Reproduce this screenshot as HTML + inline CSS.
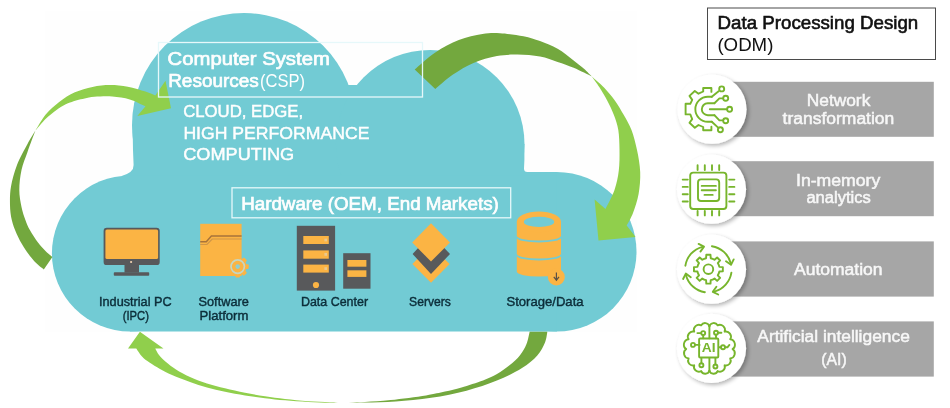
<!DOCTYPE html>
<html><head><meta charset="utf-8"><title>diagram</title>
<style>
html,body{margin:0;padding:0;background:#fff;}
body{width:950px;height:408px;overflow:hidden;font-family:"Liberation Sans",sans-serif;}
svg{display:block;}
text{font-family:"Liberation Sans",sans-serif;opacity:.995;}
.lbl{font-size:12.9px;fill:#0c2d39;stroke:#0c2d39;stroke-width:.42px;}
.wt{fill:#fff;}
.sb{stroke:#fff;stroke-width:.7px;}
.ic{fill:none;stroke:#77b52c;stroke-width:1.9;stroke-linecap:round;stroke-linejoin:round;}
</style></head><body>
<svg width="950" height="408" viewBox="0 0 950 408">
<defs>
  <linearGradient id="g1" gradientUnits="userSpaceOnUse" x1="20" y1="170" x2="70" y2="100">
    <stop offset="0" stop-color="#6ea73d"/><stop offset="1" stop-color="#8cc944"/>
  </linearGradient>
  <linearGradient id="g3" gradientUnits="userSpaceOnUse" x1="325" y1="0" x2="365" y2="0">
    <stop offset="0" stop-color="#90cf4c"/><stop offset="1" stop-color="#73a83e"/>
  </linearGradient>
  <filter id="sh" x="-30%" y="-30%" width="160%" height="160%">
    <feGaussianBlur in="SourceAlpha" stdDeviation="2.2"/>
    <feOffset dx="1.5" dy="1.8" result="b"/>
    <feComponentTransfer><feFuncA type="linear" slope="0.3"/></feComponentTransfer>
    <feMerge><feMergeNode/><feMergeNode in="SourceGraphic"/></feMerge>
  </filter>
  <filter id="soft" x="-5%" y="-5%" width="110%" height="110%"><feGaussianBlur stdDeviation="0.5"/></filter>
</defs>
<rect x="45" y="11" width="592" height="321" fill="#fefefe"/>

<!-- bottom arrow (behind cloud) -->
<path d="M547.4 331.4 C547.0 333.3 546.6 338.7 544.9 342.7 C543.2 346.7 541.1 351.2 537.3 355.4 C533.5 359.6 528.7 363.8 522.0 368.0 C515.3 372.2 506.1 376.8 496.9 380.6 C487.6 384.4 477.4 387.8 466.5 390.7 C455.6 393.6 443.0 396.0 431.2 397.8 C419.4 399.6 406.8 400.6 395.8 401.4 C384.8 402.2 373.6 402.4 365.0 402.6 C356.4 402.8 349.8 402.6 344.0 402.6 C338.2 402.6 336.0 402.9 330.0 402.8 C324.0 402.7 315.5 402.4 308.0 402.0 C300.5 401.6 292.2 400.9 285.0 400.3 C277.8 399.7 271.7 399.0 265.0 398.2 C258.3 397.4 251.7 396.5 245.0 395.4 C238.3 394.3 231.3 393.1 225.0 391.8 C218.7 390.5 212.8 389.0 207.0 387.4 C201.2 385.8 195.8 384.1 190.0 382.0 C184.2 379.9 177.0 377.2 172.0 375.0 C167.0 372.8 163.8 371.1 160.0 369.0 C156.2 366.9 152.5 364.7 149.5 362.6 C146.5 360.5 144.2 358.9 142.0 356.5 C139.8 354.1 137.2 349.8 136.2 348.5 L128.0 348.5 L139.9 331.8 L163.5 348.5 L155.3 348.5 L155.3 348.5 C155.9 349.6 157.2 352.8 159.0 355.0 C160.8 357.2 163.2 359.6 166.0 362.0 C168.8 364.4 172.0 367.0 176.0 369.5 C180.0 372.0 184.8 374.7 190.0 377.0 C195.2 379.3 201.2 381.6 207.0 383.5 C212.8 385.4 218.7 386.8 225.0 388.3 C231.3 389.9 238.3 391.5 245.0 392.8 C251.7 394.1 258.3 395.3 265.0 396.3 C271.7 397.3 277.8 398.2 285.0 399.0 C292.2 399.8 300.5 400.7 308.0 401.2 C315.5 401.7 324.0 402.0 330.0 402.2 C336.0 402.4 338.2 402.4 344.0 402.4 C349.8 402.3 357.2 402.3 365.0 401.9 C372.8 401.5 380.5 401.1 390.7 400.0 C400.9 398.9 416.9 396.8 426.0 395.4 C435.1 394.0 439.1 392.9 445.0 391.6 C450.9 390.3 455.2 389.3 461.5 387.4 C467.8 385.5 477.1 382.6 483.0 380.4 C488.9 378.2 492.6 376.5 497.0 374.0 C501.4 371.5 505.7 368.4 509.5 365.3 C513.3 362.2 517.2 358.9 520.0 355.3 C522.8 351.8 524.9 348.0 526.5 344.0 C528.1 340.0 529.2 333.5 529.7 331.4 Z" fill="url(#g3)"/>
<!-- left arrow tail (behind cloud) -->

<!-- CLOUD -->
<g fill="#72cbd4" filter="url(#soft)">
  <circle cx="244" cy="125" r="112"/>
  <circle cx="430.2" cy="144.2" r="94.3"/>
  <rect x="346" y="85" width="14" height="14"/>
  <circle cx="129.9" cy="253.4" r="78"/>
  <path d="M132.6 125 L133 150 L133.6 165 Q134 172.6 121 176.2 L200 178 L200 125 Z"/>
  <path d="M524.4 144 L524.4 160 L524 168.5 Q524 172 527.4 172 L557 172 L557 182 L480 182 L480 144 Z"/>
  <circle cx="556.75" cy="251.75" r="79.75"/>
  <rect x="129.9" y="175.6" width="427" height="155.9"/>
</g>

<!-- arrows on top -->
<path d="M35.4 130.6 C34.1 132.8 30.6 138.3 27.5 144.0 C24.4 149.7 19.8 157.9 17.0 165.0 C14.2 172.1 12.2 179.8 11.0 186.5 C9.8 193.2 9.9 199.4 10.0 205.0 C10.1 210.6 10.7 215.2 11.8 220.0 C12.9 224.8 14.6 229.1 16.6 233.7 C18.6 238.3 21.1 242.9 24.0 247.5 C26.9 252.1 31.0 257.6 34.3 261.2 C37.6 264.8 42.2 268.0 43.8 269.4 L52.4 256.9 C51.2 255.9 47.9 253.3 45.5 250.9 C43.1 248.5 40.4 245.7 37.8 242.3 C35.2 238.9 32.1 234.0 30.0 230.3 C27.9 226.6 26.8 223.9 25.4 220.0 C24.0 216.1 22.5 212.0 21.5 207.0 C20.5 202.0 19.3 196.2 19.3 190.0 C19.3 183.8 20.1 176.3 21.5 170.0 C22.9 163.7 25.2 158.6 27.5 152.0 C29.8 145.4 34.1 134.2 35.4 130.6 Z" fill="#73a83e"/>
<path d="M35.4 130.6 C37.1 128.0 41.5 119.6 45.5 114.8 C49.5 110.0 54.3 105.8 59.2 102.0 C64.1 98.2 69.4 94.8 74.9 92.3 C80.5 89.8 86.6 88.1 92.5 86.9 C98.4 85.7 104.3 85.1 110.2 85.1 C116.1 85.1 121.9 85.6 127.8 86.7 C133.7 87.8 140.9 90.1 145.5 91.6 C150.1 93.1 153.7 94.8 155.3 95.5 L165.5 80.8 L171.0 108.2 L137.3 116.0 L145.5 106.3 L145.5 106.3 C142.9 105.2 135.4 101.0 129.8 99.4 C124.3 97.8 118.1 96.9 112.2 96.5 C106.3 96.1 99.1 96.5 94.5 96.8 C89.9 97.1 87.6 98.0 84.7 98.6 C81.8 99.2 79.4 99.5 76.9 100.2 C74.5 100.9 72.6 101.5 70.0 102.6 C67.4 103.7 64.2 105.0 61.2 106.8 C58.2 108.6 54.7 111.3 52.0 113.4 C49.3 115.5 47.8 116.7 45.0 119.6 C42.2 122.5 37.0 128.8 35.4 130.6 Z" fill="#90cf4c"/>
<path d="M414.7 69.4 C418.1 66.6 427.9 57.3 435.3 52.4 C442.7 47.5 451.0 43.1 458.8 40.0 C466.6 36.9 475.5 35.1 482.4 34.0 C489.3 32.9 493.1 32.8 500.0 33.2 C506.9 33.6 516.8 34.9 523.5 36.2 C530.2 37.5 534.3 39.0 540.0 41.1 C545.7 43.2 552.1 45.7 557.6 48.8 C563.1 51.9 568.6 56.6 573.0 59.9 C577.4 63.2 580.9 66.0 584.0 68.7 C587.1 71.5 590.5 75.1 591.8 76.4 L591.8 76.4 C590.5 75.8 587.1 74.1 584.0 72.6 C580.9 71.1 577.4 69.3 573.0 67.5 C568.6 65.7 563.1 63.8 557.6 62.0 C552.1 60.2 546.7 57.8 540.0 56.6 C533.3 55.4 524.8 54.7 517.6 54.6 C510.4 54.5 504.4 54.6 497.0 56.0 C489.6 57.4 480.8 59.9 473.5 63.0 C466.2 66.1 459.4 70.3 453.0 74.6 C446.6 78.9 438.2 86.6 435.3 89.0 Z" fill="#73a83e"/>
<path d="M591.8 76.4 C593.8 78.2 600.1 83.4 604.0 87.4 C607.9 91.5 611.7 96.1 615.0 100.7 C618.3 105.3 621.0 110.1 623.8 115.0 C626.5 119.9 629.3 124.2 631.5 130.0 C633.7 135.8 635.5 143.0 637.0 150.0 C638.5 157.0 639.9 164.7 640.2 172.0 C640.5 179.3 639.8 187.2 638.6 194.0 C637.4 200.8 635.0 207.8 633.0 213.0 C631.0 218.2 627.8 223.4 626.7 225.5 L635.6 237.0 L598.5 240.5 L594.6 199.5 L605.5 209.0 L605.5 209.0 C607.0 205.8 612.3 196.4 614.5 190.0 C616.7 183.6 618.0 177.3 618.8 170.6 C619.6 163.9 619.6 156.8 619.5 150.0 C619.4 143.2 619.2 135.8 618.3 130.0 C617.4 124.2 615.7 119.9 613.9 115.0 C612.1 110.1 609.7 105.3 607.3 100.7 C604.9 96.1 602.2 91.5 599.6 87.4 C597.0 83.4 593.1 78.2 591.8 76.4 Z" fill="#90cf4c"/>

<!-- text boxes -->
<rect x="158.5" y="42.5" width="264" height="54.5" fill="none" stroke="#e6f8fa" stroke-width="1.3"/>
<text class="wt sb" x="167.6" y="65" font-size="18.8" textLength="162.2" lengthAdjust="spacingAndGlyphs">Computer System</text>
<text class="wt sb" x="168.2" y="87" font-size="18.8" textLength="90.6" lengthAdjust="spacingAndGlyphs">Resources</text>
<text class="wt" x="260" y="87" font-size="18.6" textLength="45" lengthAdjust="spacingAndGlyphs">(CSP)</text>
<g class="wt" font-size="16.5" stroke="#fff" stroke-width=".45">
<text x="183.2" y="117.4" textLength="120" lengthAdjust="spacingAndGlyphs">CLOUD, EDGE,</text>
<text x="183.4" y="139" textLength="186" lengthAdjust="spacingAndGlyphs">HIGH PERFORMANCE</text>
<text x="183.2" y="159.8" textLength="111" lengthAdjust="spacingAndGlyphs">COMPUTING</text>
</g>
<rect x="232" y="187.8" width="278.7" height="30" fill="none" stroke="#e6f8fa" stroke-width="1.3"/>
<text class="wt sb" x="241.2" y="210.2" font-size="18.2" textLength="257.6" lengthAdjust="spacingAndGlyphs">Hardware (OEM, End Markets)</text>

<!-- ICONS -->
<!-- monitor -->
<g>
  <rect x="103.6" y="227.7" width="56.1" height="37.4" rx="3.2" fill="#58595b"/>
  <rect x="105.4" y="229.5" width="52.7" height="29.6" rx="1.6" fill="#fbb444"/>
  <circle cx="131.1" cy="262" r="1.1" fill="#f3d2b0"/>
  <rect x="124.5" y="265" width="14.5" height="7.6" fill="#58595b"/>
  <rect x="113.8" y="272.2" width="35.4" height="3.6" rx=".8" fill="#58595b"/>
</g>
<!-- software platform -->
<g>
  <g transform="translate(237.7 266.6)" fill="#fbb444">
      <circle r="8.9"/>
      <rect x="-2.3" y="-11" width="4.6" height="22" rx="1"/>
      <rect x="-2.3" y="-11" width="4.6" height="22" rx="1" transform="rotate(45)"/>
      <rect x="-2.3" y="-11" width="4.6" height="22" rx="1" transform="rotate(90)"/>
      <rect x="-2.3" y="-11" width="4.6" height="22" rx="1" transform="rotate(135)"/>
  </g>
  <rect x="200.2" y="223.8" width="41.4" height="52.2" fill="#fbb444"/>
  <path d="M200.2 241.7 H206.3 L211.4 236 H241.6" fill="none" stroke="#a8733a" stroke-width="1.5"/>
  <path d="M200.2 244.5 H207 L212.2 239 H241.6" fill="none" stroke="#cf9648" stroke-width="1.1"/>
  <g transform="translate(237.7 266.6)">
    <circle r="6.7" fill="none" stroke="#c6d6c3" stroke-width="1.7"/>
    <circle r="2.3" fill="#8fcfd2"/>
  </g>
</g>
<!-- data center -->
<g>
  <rect x="296.8" y="225.8" width="38.3" height="64.8" fill="#58595b"/>
  <g fill="#fbb444">
    <rect x="303.3" y="236" width="25.5" height="8"/>
    <rect x="303.3" y="250.4" width="25.5" height="8.3"/>
    <rect x="303.3" y="264.6" width="25.5" height="8"/>
    <circle cx="316" cy="285" r="3.1"/>
  </g>
  <g fill="#e9c98f"><rect x="324.4" y="238.6" width="2.6" height="2.8"/><rect x="324.4" y="253" width="2.6" height="2.8"/><rect x="324.4" y="267.2" width="2.6" height="2.8"/></g>
  <rect x="343.2" y="253.2" width="27.3" height="35.5" fill="#58595b"/>
  <g fill="#fbb444">
    <rect x="347.4" y="260" width="19" height="6.7"/>
    <rect x="347.4" y="270.3" width="19" height="6.6"/>
  </g>
</g>
<!-- servers -->
<g>
  <path d="M431 245 L449.6 264 L431 282.8 L412.4 264 Z" fill="#fbb444"/>
  <path d="M431 234 L450 254 L431 274 L412.6 254 Z" fill="#58595b"/>
  <path d="M431 223.2 L450 242.4 L431 261.6 L412.2 242.4 Z" fill="#fbb444"/>
</g>
<!-- storage -->
<g>
  <g fill="#fbb444">
    <path d="M516.8 221.8 V235.8 A22.1 4.8 0 0 0 561 235.8 V221.8 Z"/>
    <ellipse cx="538.9" cy="221.8" rx="22.1" ry="10.4"/>
    <path d="M516.8 237.7 A22.1 4.8 0 0 0 561 237.7 V253.8 A22.1 4.8 0 0 1 516.8 253.8 Z"/>
    <path d="M516.8 255.7 A22.1 4.8 0 0 0 561 255.7 V271.6 A22.1 5 0 0 1 516.8 271.6 Z"/>
    <circle cx="556.3" cy="277" r="8.5"/>
  </g>
  <ellipse cx="539" cy="221.9" rx="15.2" ry="5.1" fill="#72cbd4"/>
  <path d="M556.4 272.4 V279.6 M553.8 276.8 L556.4 280.2 L559 276.8" fill="none" stroke="#5a5147" stroke-width="1.2"/>
</g>

<!-- labels -->
<g class="lbl">
<text x="99" y="306" textLength="72.6" lengthAdjust="spacingAndGlyphs">Industrial PC</text>
<text x="122.7" y="320.4" textLength="26.2" lengthAdjust="spacingAndGlyphs">(IPC)</text>
<text x="198.5" y="306" textLength="50.4" lengthAdjust="spacingAndGlyphs">Software</text>
<text x="199.5" y="320.4" textLength="48.9" lengthAdjust="spacingAndGlyphs">Platform</text>
<text x="300.9" y="306" textLength="67.2" lengthAdjust="spacingAndGlyphs">Data Center</text>
<text x="409.1" y="306" textLength="41.8" lengthAdjust="spacingAndGlyphs">Servers</text>
<text x="506.4" y="306" textLength="77.2" lengthAdjust="spacingAndGlyphs">Storage/Data</text>
</g>

<!-- RIGHT PANEL -->
<rect x="707.5" y="8" width="228" height="51.5" fill="#fff" stroke="#4a4a4a" stroke-width="1"/>
<text x="717.6" y="29.3" font-size="18.2" fill="#111" stroke="#111" stroke-width=".6" textLength="200.6" lengthAdjust="spacingAndGlyphs">Data Processing Design</text>
<text x="717.4" y="50.6" font-size="18" fill="#111" textLength="56" lengthAdjust="spacingAndGlyphs">(ODM)</text>

<g fill="#a6a6a6">
  <rect x="712" y="81.8" width="221.8" height="55"/>
  <rect x="712" y="161.2" width="221.8" height="55"/>
  <rect x="712" y="241.4" width="221.8" height="55.2"/>
  <rect x="712" y="321.4" width="221.8" height="55.2"/>
</g>
<g fill="#fff" filter="url(#sh)">
  <circle cx="712" cy="109.2" r="34.6"/>
  <circle cx="711.5" cy="189.2" r="34.6"/>
  <circle cx="711.5" cy="269.2" r="34.6"/>
  <circle cx="711.5" cy="348.4" r="34.6"/>
</g>
<g fill="#f8f8f8" font-size="16" stroke="#f8f8f8" stroke-width=".5" lengthAdjust="spacingAndGlyphs">
  <text x="806.8" y="105.6" textLength="63.5" lengthAdjust="spacingAndGlyphs">Network</text>
  <text x="782.6" y="123.8" textLength="111.7" lengthAdjust="spacingAndGlyphs">transformation</text>
  <text x="796" y="185.5" textLength="84.3" lengthAdjust="spacingAndGlyphs">In-memory</text>
  <text x="806.4" y="203.4" textLength="64.4" lengthAdjust="spacingAndGlyphs">analytics</text>
  <text x="794" y="275" textLength="88.6" lengthAdjust="spacingAndGlyphs">Automation</text>
  <text x="757.3" y="342.3" textLength="152.5" lengthAdjust="spacingAndGlyphs">Artificial intelligence</text>
  <text x="821.3" y="365" textLength="25.4" lengthAdjust="spacingAndGlyphs">(AI)</text>
</g>

<!-- icon 1: network transformation -->
<g class="ic" transform="translate(710.2 109.2)">
  <path d="M1.2 -17.3 V-21.2 H-7 V-17.7 L-11.7 -15.5 L-15.4 -18.2 L-20.7 -13.3 L-18 -9.3 L-19.9 -5.4 H-24.6 V5.2 H-19.9 L-18 9.9 L-20.7 13.6 L-15.4 18.5 L-11.7 15.8 L-7 17.8 V21.1 H1.2 V17.6"/>
  <path d="M1.6 -12.4 H-2.4 A12.45 12.45 0 0 0 -2.4 12.5 H1.6"/>
  <path d="M1.6 -12.4 L8.4 -18"/><circle cx="11.5" cy="-20.3" r="2.5"/>
  <path d="M1.6 12.5 L7.4 17.9"/><circle cx="10.2" cy="20.6" r="2.5"/>
  <path d="M4.2 -6 H-2.4 A6 6 0 0 0 -2.4 6 H4.2"/>
  <path d="M4.2 -6 L9.2 -10.8 H12.9"/><circle cx="15.5" cy="-11" r="2.5"/>
  <path d="M4.2 6 L9.2 11.2 H12.9"/><circle cx="15.5" cy="11.5" r="2.5"/>
  <path d="M-0.4 0 H16.8"/><circle cx="19.4" cy="0" r="2.5"/>
</g>
<!-- icon 2: chip -->
<g class="ic">
  <rect x="690.2" y="172.6" width="36.2" height="36.4" rx="3"/>
  <rect x="698" y="179.4" width="21.2" height="21.6" rx="3"/>
  <path d="M701.7 185.9 H715.9 M701.7 190.3 H715.9 M704.5 194.9 H712.7"/>
  <path d="M697.6 165.3 V170 M704.8 165.3 V170 M712 165.3 V170 M719.2 165.3 V170"/>
  <path d="M697.6 211 V215.4 M704.8 211 V215.4 M712 211 V215.4 M719.2 211 V215.4"/>
  <path d="M682.7 179.6 H687.8 M682.7 186.9 H687.8 M682.7 194.2 H687.8 M682.7 201.5 H687.8"/>
  <path d="M729.2 179.6 H734.4 M729.2 186.9 H734.4 M729.2 194.2 H734.4 M729.2 201.5 H734.4"/>
</g>
<!-- icon 3: automation -->
<g class="ic" transform="translate(708.4 269.2)">
  <circle r="4.8"/>
  <path id="gear" d="M-2.31 -10.96 L-2.10 -14.45 L2.10 -14.45 L2.31 -10.96 A11.2 11.2 0 0 1 6.12 -9.38 L8.73 -11.70 L11.70 -8.73 L9.38 -6.12 A11.2 11.2 0 0 1 10.96 -2.31 L14.45 -2.10 L14.45 2.10 L10.96 2.31 A11.2 11.2 0 0 1 9.38 6.12 L11.70 8.73 L8.73 11.70 L6.12 9.38 A11.2 11.2 0 0 1 2.31 10.96 L2.10 14.45 L-2.10 14.45 L-2.31 10.96 A11.2 11.2 0 0 1 -6.12 9.38 L-8.73 11.70 L-11.70 8.73 L-9.38 6.12 A11.2 11.2 0 0 1 -10.96 2.31 L-14.45 2.10 L-14.45 -2.10 L-10.96 -2.31 A11.2 11.2 0 0 1 -9.38 -6.12 L-11.70 -8.73 L-8.73 -11.70 L-6.12 -9.38 A11.2 11.2 0 0 1 -2.31 -10.96 Z"/>
  <g id="arr"><path d="M-23 -3.5 A23.3 23.3 0 0 1 -6 -22.4"/><path d="M-9.8 -25.3 L-4.4 -22.6 L-8 -17.6"/></g>
  <use href="#arr" transform="rotate(90)"/>
  <use href="#arr" transform="rotate(180)"/>
  <use href="#arr" transform="rotate(270)"/>
</g>
<!-- icon 4: AI brain -->
<g class="ic" transform="translate(709.4 347.9)">
  <rect x="-10.3" y="-9.4" width="19.2" height="19" rx="1"/>
  <path d="M0 -21.6 V-9.6 M0 10 V22.8"/>
  <path d="M0.0 -21.6 A4.5 4.5 0 0 1 8.2 -22.6 A5.1 5.1 0 0 1 15.2 -16.2 A5.1 5.1 0 0 1 20.8 -8.6 A5.4 5.4 0 0 1 23.2 1.2 A5.2 5.2 0 0 1 20.8 10.6 A4.8 4.8 0 0 1 15.2 17.4 A4.9 4.9 0 0 1 8.2 23.2 A4.4 4.4 0 0 1 0.0 22.8"/>
  <path d="M0.0 -21.6 A4.5 4.5 0 0 0 -8.2 -22.6 A5.1 5.1 0 0 0 -15.2 -16.2 A5.1 5.1 0 0 0 -20.8 -8.6 A5.4 5.4 0 0 0 -23.2 1.2 A5.2 5.2 0 0 0 -20.8 10.6 A4.8 4.8 0 0 0 -15.2 17.4 A4.9 4.9 0 0 0 -8.2 23.2 A4.4 4.4 0 0 0 0.0 22.8"/>
  <circle cx="-6.2" cy="-14.8" r="2"/><path d="M-6.2 -12.8 V-9.6 M-8.2 -14.8 H-12"/>
  <circle cx="6.6" cy="-15.2" r="2"/><path d="M6.6 -13.2 V-9.6 M8.6 -15.2 H12"/>
  <circle cx="-16.4" cy="-3" r="2"/><path d="M-14.4 -3 H-9.8"/>
  <circle cx="13.6" cy="-0.6" r="2"/><path d="M11.6 -0.6 H9.8 M15.6 -0.6 H18 L20 -3"/>
  <circle cx="-8" cy="17.4" r="2"/><path d="M-8 15.4 V10"/>
  <circle cx="6" cy="18.6" r="2"/><path d="M6 16.6 V10"/>
</g>
<text x="701.8" y="352.3" font-size="12.8" font-weight="bold" fill="#77b52c" textLength="13.8" lengthAdjust="spacingAndGlyphs" opacity=".99">AI</text>
</svg>
</body></html>
